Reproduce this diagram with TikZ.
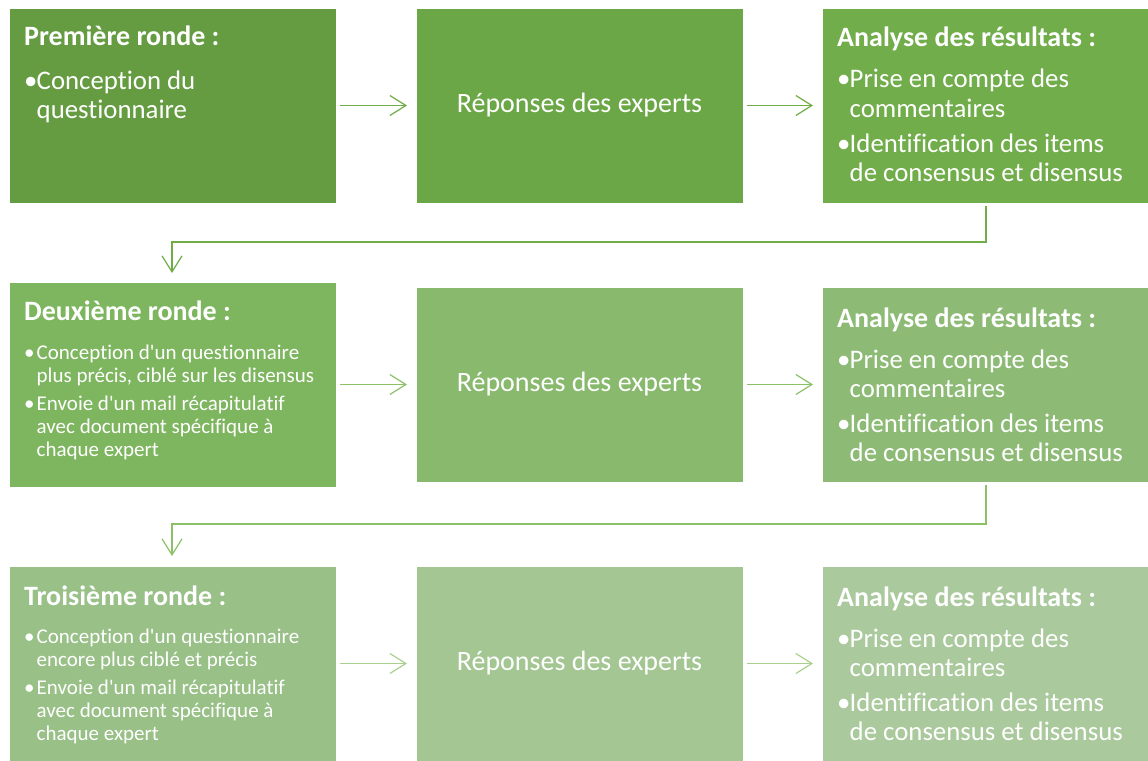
\documentclass[tikz,border=0pt]{standalone}
\usepackage{fontspec}
\setmainfont{Carlito}[Ligatures={NoCommon}]
\usetikzlibrary{arrows.meta}
\definecolor{ga1}{HTML}{659C41}
\definecolor{gb1}{HTML}{6BA746}
\definecolor{gc1}{HTML}{71AD4B}
\definecolor{ga2}{HTML}{7EB55F}
\definecolor{gb2}{HTML}{88B96D}
\definecolor{gc2}{HTML}{8DBB75}
\definecolor{ga3}{HTML}{98C087}
\definecolor{gb3}{HTML}{A3C693}
\definecolor{gc3}{HTML}{AAC99C}
\definecolor{lineA}{HTML}{70AD47}
\definecolor{lineB}{HTML}{8CC168}
\definecolor{lineC}{HTML}{A9D08E}
\newcommand{\bl}{\makebox[12.5pt][l]{•}}
\newcommand{\ind}{\hspace*{12.5pt}}
\newcommand{\ap}{\textquotesingle}
\tikzset{
  box/.style={rectangle, draw=white, line width=0.6pt, inner sep=0pt, anchor=north west},
  ttl/.style={anchor=base west, inner sep=0pt, text=white, font=\fontsize{28}{30}\selectfont\bfseries},
  big/.style={anchor=base west, inner sep=0pt, text=white, font=\fontsize{26.8}{30}\selectfont},
  small/.style={anchor=base west, inner sep=0pt, text=white, font=\fontsize{21}{23}\selectfont},
  mid/.style={inner sep=0pt, text=white, font=\fontsize{28}{30}\selectfont},
  conn/.style={line width=1.2pt, -{Straight Barb[length=16pt,width=20pt,line width=1.2pt]}},
}
\begin{document}
\begin{tikzpicture}[x=1pt,y=-1pt]
\useasboundingbox (0,0) rectangle (1148,760);
% boxes
\node[box, fill=ga1, minimum width=327pt, minimum height=195pt] (a1) at (9,8) {};
\node[box, fill=gb1, minimum width=327pt, minimum height=195pt] (b1) at (416,8) {};
\node[box, fill=gc1, minimum width=330pt, minimum height=195pt] (c1) at (822,8) {};
\node[box, fill=ga2, minimum width=327pt, minimum height=205pt] (a2) at (9,282) {};
\node[box, fill=gb2, minimum width=327pt, minimum height=195pt] (b2) at (416,287) {};
\node[box, fill=gc2, minimum width=330pt, minimum height=195pt] (c2) at (822,287) {};
\node[box, fill=ga3, minimum width=327pt, minimum height=205pt] (a3) at (9,566) {};
\node[box, fill=gb3, minimum width=327pt, minimum height=200pt] (b3) at (416,566) {};
\node[box, fill=gc3, minimum width=330pt, minimum height=200pt] (c3) at (822,566) {};
% row 1 texts
\node[ttl] (a1t) at (24,46) {Première ronde :};
\node[big] (a1l1) at (24,89) {\bl Conception du};
\node[big] (a1l2) at (24,118) {\ind questionnaire};
\node[mid] (b1t) at (579.5,105.5) {Réponses des experts};
\node[ttl] (c1t) at (837,47) {Analyse des résultats :};
\node[big] (c1l1) at (837,88) {\bl Prise en compte des};
\node[big] (c1l2) at (837,117) {\ind commentaires};
\node[big] (c1l3) at (837,152) {\bl Identification des items};
\node[big] (c1l4) at (837,181) {\ind de consensus et disensus};
% row 2 texts
\node[ttl] (a2t) at (24,320) {Deuxième ronde :};
\node[small] (a2l1) at (24,359) {\bl Conception d\ap un questionnaire};
\node[small] (a2l2) at (24,382) {\ind plus précis, ciblé sur les disensus};
\node[small] (a2l3) at (24,410) {\bl Envoie d\ap un mail récapitulatif};
\node[small] (a2l4) at (24,433) {\ind avec document spécifique à};
\node[small] (a2l5) at (24,456) {\ind chaque expert};
\node[mid] (b2t) at (579.5,384.5) {Réponses des experts};
\node[ttl] (c2t) at (837,327) {Analyse des résultats :};
\node[big] (c2l1) at (837,368) {\bl Prise en compte des};
\node[big] (c2l2) at (837,397) {\ind commentaires};
\node[big] (c2l3) at (837,432) {\bl Identification des items};
\node[big] (c2l4) at (837,461) {\ind de consensus et disensus};
% row 3 texts
\node[ttl] (a3t) at (24,605) {Troisième ronde :};
\node[small] (a3l1) at (24,643) {\bl Conception d\ap un questionnaire};
\node[small] (a3l2) at (24,666) {\ind encore plus ciblé et précis};
\node[small] (a3l3) at (24,694) {\bl Envoie d\ap un mail récapitulatif};
\node[small] (a3l4) at (24,717) {\ind avec document spécifique à};
\node[small] (a3l5) at (24,740) {\ind chaque expert};
\node[mid] (b3t) at (579.5,663.5) {Réponses des experts};
\node[ttl] (c3t) at (837,606) {Analyse des résultats :};
\node[big] (c3l1) at (837,647) {\bl Prise en compte des};
\node[big] (c3l2) at (837,676) {\ind commentaires};
\node[big] (c3l3) at (837,711) {\bl Identification des items};
\node[big] (c3l4) at (837,740) {\ind de consensus et disensus};
% horizontal connectors
\draw[conn, lineA] ([xshift=3pt]a1.east |- 0,105.5) -- ([xshift=-9pt]b1.west |- 0,105.5);
\draw[conn, lineA] ([xshift=3pt]b1.east |- 0,105.5) -- ([xshift=-9pt]c1.west |- 0,105.5);
\draw[conn, lineB] ([xshift=3pt]a2.east |- 0,384.5) -- ([xshift=-9pt]b2.west |- 0,384.5);
\draw[conn, lineB] ([xshift=3pt]b2.east |- 0,384.5) -- ([xshift=-9pt]c2.west |- 0,384.5);
\draw[conn, lineC] ([xshift=3pt]a3.east |- 0,663.5) -- ([xshift=-9pt]b3.west |- 0,663.5);
\draw[conn, lineC] ([xshift=3pt]b3.east |- 0,663.5) -- ([xshift=-9pt]c3.west |- 0,663.5);
% return connectors
\coordinate (r1) at (986,242);
\coordinate (r2) at (986,524);
\draw[conn, lineA] (986,206) -- (r1) -- (172,242) -- ([yshift=9pt]a2.north -| 172,0);
\draw[conn, lineB] (986,485) -- (r2) -- (172,524) -- ([yshift=10pt]a3.north -| 172,0);
\end{tikzpicture}
\end{document}
